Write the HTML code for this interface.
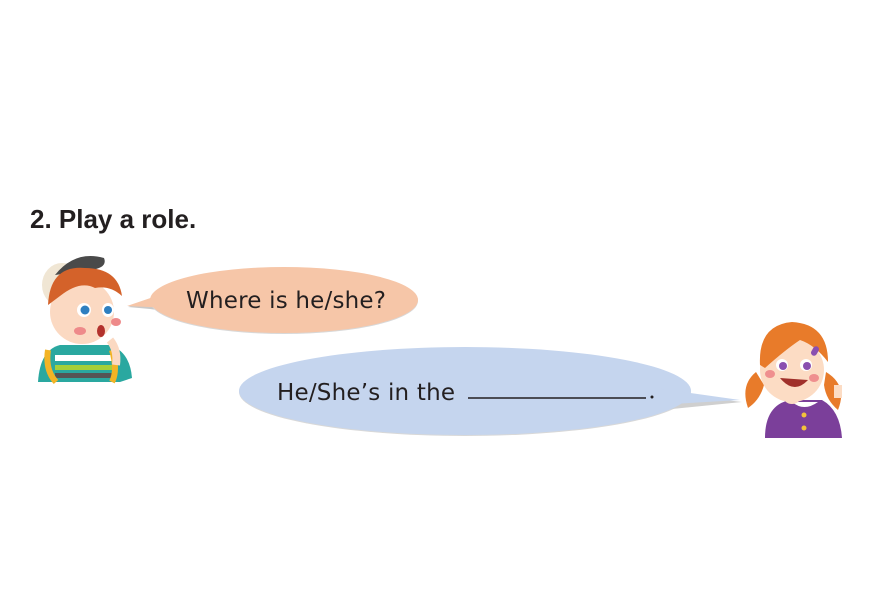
<!DOCTYPE html>
<html><head><meta charset="utf-8"><style>
html,body{margin:0;padding:0;background:#fff;}
svg{display:block;}
</style></head><body>
<svg width="873" height="612" viewBox="0 0 873 612" xmlns="http://www.w3.org/2000/svg">
<rect width="873" height="612" fill="#fff"/>
<text x="30" y="228" font-family="Liberation Sans, sans-serif" font-weight="bold" font-size="26" fill="#231f20">2. Play a role.</text>

<!-- orange bubble -->
<g>
<path d="M165,294 L128,307 L150,309 L172,312 Z" fill="#c9c9c9"/>
<ellipse cx="284" cy="301" rx="134" ry="33" fill="#d8d8d8"/>
<ellipse cx="284" cy="300" rx="134" ry="33" fill="#f6c6a8"/>
<path d="M168,292 L127,306 L170,308 Z" fill="#f6c6a8"/>
<text x="186" y="308" font-family="DejaVu Sans, Liberation Sans, sans-serif" font-size="23" fill="#231f20" textLength="200">Where is he/she?</text>
</g>

<!-- blue bubble -->
<g>
<ellipse cx="465" cy="392" rx="226" ry="44" fill="#d8d8d8"/>
<path d="M660,392 L742,402 L662,410 Z" fill="#cfcfcf"/>
<ellipse cx="465" cy="391" rx="226" ry="44" fill="#c5d5ee"/>
<path d="M655,388 L740,400 L655,405 Z" fill="#c5d5ee"/>
<text x="277" y="400" font-family="DejaVu Sans, Liberation Sans, sans-serif" font-size="23" fill="#231f20" textLength="178">He/She’s in the</text>
<line x1="468" y1="398" x2="646" y2="398" stroke="#231f20" stroke-width="1.5"/>
<circle cx="652" cy="397" r="1.5" fill="#231f20"/>
</g>

<!-- boy -->
<g>
<path d="M38,382 Q40,350 60,345 L110,345 Q130,352 132,378 L120,382 Z" fill="#2aa8a0"/>
<rect x="55" y="355" width="60" height="6" fill="#fff"/>
<rect x="55" y="365" width="60" height="5" fill="#a6cf3a"/>
<rect x="55" y="373" width="60" height="5" fill="#555"/>
<path d="M48,350 Q45,370 56,382 M112,350 Q118,370 112,382" stroke="#f3b425" stroke-width="6" fill="none"/>
<ellipse cx="62" cy="285" rx="20" ry="22" fill="#f0e6d4"/>
<path d="M55,275 Q75,250 104,258 Q108,268 90,270 Z" fill="#4a4a4a"/>
<ellipse cx="82" cy="312" rx="32" ry="32" fill="#fbd9c2"/>
<path d="M48,305 Q50,265 85,268 Q118,268 122,296 Q110,285 95,288 Q80,280 60,296 Z" fill="#d4622a"/>
<ellipse cx="84" cy="310" rx="7" ry="7" fill="#fff"/><circle cx="85" cy="310" r="4.5" fill="#2e7fc0"/>
<ellipse cx="108" cy="310" rx="6" ry="7" fill="#fff"/><circle cx="108" cy="310" r="4" fill="#2e7fc0"/>
<ellipse cx="80" cy="331" rx="6" ry="4" fill="#ee8a8a"/>
<ellipse cx="116" cy="322" rx="5" ry="4" fill="#ee8a8a"/>
<ellipse cx="101" cy="331" rx="4" ry="6" fill="#b3322d"/>
<path d="M110,340 Q118,350 116,365" stroke="#fbd9c2" stroke-width="8" fill="none"/>
</g>

<!-- girl -->
<g>
<path d="M765,438 Q765,405 790,400 L822,400 Q840,410 842,438 Z" fill="#7b3f9a"/>
<path d="M792,402 Q804,412 818,402" fill="#fff"/>
<circle cx="804" cy="415" r="2.5" fill="#f3c23a"/><circle cx="804" cy="428" r="2.5" fill="#f3c23a"/>
<path d="M756,372 Q740,385 748,408 Q760,400 764,385 Z" fill="#e87b2a"/>
<path d="M826,372 Q848,385 838,410 Q826,400 824,385 Z" fill="#e87b2a"/>
<ellipse cx="792" cy="370" rx="32" ry="32" fill="#fcdcc4"/>
<path d="M760,365 Q758,325 792,322 Q828,324 828,362 Q815,345 800,340 Q785,350 765,368 Z" fill="#e87b2a"/>
<rect x="812" y="346" width="6" height="10" rx="3" fill="#8a4fb0" transform="rotate(30 815 351)"/>
<ellipse cx="782" cy="365" rx="6" ry="6" fill="#fff"/><circle cx="783" cy="366" r="4" fill="#8a4fb0"/>
<ellipse cx="806" cy="365" rx="6" ry="6" fill="#fff"/><circle cx="807" cy="366" r="4" fill="#8a4fb0"/>
<ellipse cx="770" cy="374" rx="5" ry="4" fill="#ef8f8f"/>
<ellipse cx="814" cy="378" rx="5" ry="4" fill="#ef8f8f"/>
<path d="M780,378 Q794,395 808,380 Z" fill="#a0302a"/>
<path d="M838,385 L838,398" stroke="#fcdcc4" stroke-width="8"/>
<ellipse cx="792" cy="398" rx="8" ry="6" fill="#fcdcc4"/>
</g>
</svg>
</body></html>
